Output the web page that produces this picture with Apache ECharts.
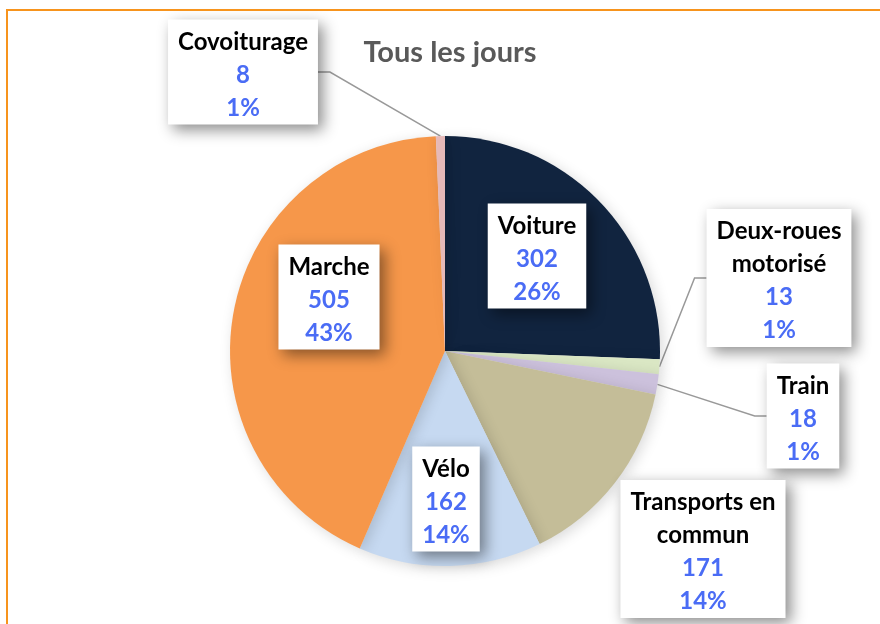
<!DOCTYPE html>
<html>
<head>
<meta charset="utf-8">
<script src="https://cdn.jsdelivr.net/npm/echarts@6/dist/echarts.min.js"></script>
<style>
  html, body { margin: 0; padding: 0; background: #fff; }
  #main { width: 880px; height: 624px; position: relative; }
  #frame {
    position: absolute; left: 6px; top: 9px; right: -10px; bottom: -10px;
    border-left: 2px solid #f7941d; border-top: 2px solid #f7941d;
    pointer-events: none;
  }
</style>
</head>
<body>
<div id="main"></div>
<div id="frame"></div>
<script>
// données
var categories = ['Voiture', 'Deux-roues\nmotorisé', 'Train', 'Transports en\ncommun', 'Vélo', 'Marche', 'Covoiturage'];
var values = [302, 13, 18, 171, 162, 505, 8];
var percents = ['26%', '1%', '1%', '14%', '14%', '43%', '1%'];
var colors = ['#11243f', '#dae7c4', '#ccc1dc', '#c4bd98', '#c6d9f1', '#f6974a', '#e6b9b8'];

// position des étiquettes (centre de la boîte)
var labelPos = [[537, 256], [779, 278], [803, 416], [703, 549], [446, 499], [329, 297], [243, 72]];
var outside = [false, true, true, false, false, false, true];

var chart = echarts.init(document.getElementById('main'), null, { width: 880, height: 624 });

var data = categories.map(function (name, i) {
  return {
    name: name,
    value: values[i],
    itemStyle: { color: colors[i] },
    labelLine: { show: outside[i] }
  };
});

var option = {
  backgroundColor: '#ffffff',
  animation: false,
  title: {
    text: 'Tous les jours',
    left: 445,
    top: 33,
    textAlign: 'center',
    textStyle: {
      fontFamily: 'Lato',
      fontSize: 29,
      fontWeight: 'bold',
      color: '#595959'
    }
  },
  series: [{
    type: 'pie',
    center: [445, 351],
    radius: [0, 215],
    startAngle: 90,
    clockwise: true,
    data: data,
    itemStyle: {
      shadowBlur: 14,
      shadowOffsetX: 3,
      shadowOffsetY: 3,
      shadowColor: 'rgba(0,0,0,0.15)'
    },
    label: {
      show: true,
      position: 'outside',
      backgroundColor: '#fff',
      padding: [6, 10, 0, 10],
      shadowBlur: 14,
      shadowOffsetX: 5,
      shadowOffsetY: 5,
      shadowColor: 'rgba(0,0,0,0.45)',
      formatter: function (p) {
        var lines = p.name.split('\n').map(function (s) { return '{n|' + s + '}'; });
        lines.push('{v|' + p.value + '}');
        lines.push('{v|' + percents[p.dataIndex] + '}');
        return lines.join('\n');
      },
      rich: {
        n: { fontFamily: 'Lato', fontSize: 24, fontWeight: 'bold', color: '#000', lineHeight: 33, align: 'center' },
        v: { fontFamily: 'Lato', fontSize: 24, fontWeight: 'bold', color: '#4a6cf5', lineHeight: 33, align: 'center' }
      }
    },
    labelLine: {
      lineStyle: { color: '#999', width: 1.5 }
    },
    labelLayout: function (params) {
      var i = params.dataIndex;
      var c = labelPos[i];
      var res = { x: c[0], y: c[1], align: 'center', verticalAlign: 'middle' };
      if (outside[i] && params.labelLinePoints) {
        var w = params.labelRect.width;
        var start = params.labelLinePoints[0];
        var side = c[0] > 445 ? -1 : 1;
        var endX = c[0] + side * w / 2;
        res.labelLinePoints = [start, [endX + side * 12, c[1]], [endX, c[1]]];
      }
      return res;
    }
  }]
};

chart.setOption(option);
</script>
</body>
</html>
